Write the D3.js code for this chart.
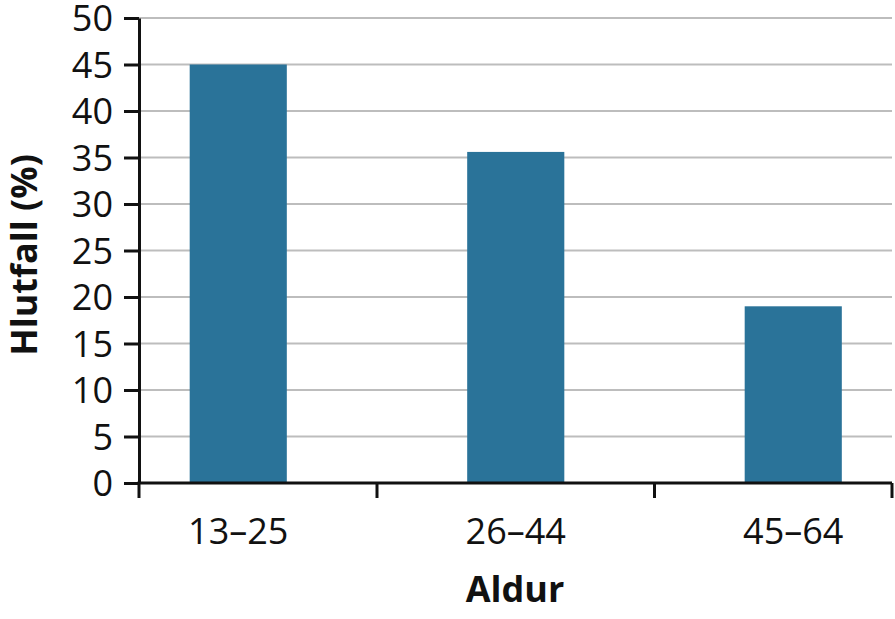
<!DOCTYPE html>
<html>
<head>
<meta charset="utf-8">
<script src="https://cdn.jsdelivr.net/npm/d3@7"></script>
<style>
  body { margin: 0; background: #fff; }
  text { font-family: "Open Sans", "Noto Sans", sans-serif; fill: #111; }
</style>
</head>
<body>
<div id="container"></div>
<script>
const categories = ["13–25", "26–44", "45–64"]
const values = [45, 35.6, 19.0]
const yTicks = [0, 5, 10, 15, 20, 25, 30, 35, 40, 45, 50]

const width = 895, height = 619
const plotLeft = 139, plotRight = 892, plotTop = 18, plotBottom = 483

const svg = d3.select("#container").append("svg")
    .attr("width", width)
    .attr("height", height)

const x = d3.scaleBand()
    .domain(categories)
    .range([99.5, 932])
    .paddingInner(0.65)
    .paddingOuter(0.325)

const y = d3.scaleLinear()
    .domain([0, 50])
    .range([plotBottom, plotTop])

// gridlines
svg.append("g")
    .selectAll("line")
    .data(yTicks.filter(d => d > 0))
    .enter()
    .append("line")
    .attr("x1", plotLeft)
    .attr("x2", plotRight)
    .attr("y1", d => y(d))
    .attr("y2", d => y(d))
    .style("stroke", "#bdbdbd")
    .style("stroke-width", 2)

// bars
svg.append("g")
    .selectAll("rect")
    .data(values)
    .enter()
    .append("rect")
    .attr("x", (d, i) => x(categories[i]))
    .attr("y", d => y(d))
    .attr("width", x.bandwidth())
    .attr("height", d => y(0) - y(d))
    .style("fill", "#2a7399")

// y axis
const yAxis = svg.append("g")
    .attr("transform", `translate(${plotLeft},0)`)
    .call(d3.axisLeft(y).tickValues(yTicks).tickSize(15).tickPadding(11).tickSizeOuter(0))
yAxis.select(".domain").style("stroke", "#111").style("stroke-width", 3)
yAxis.selectAll(".tick line").style("stroke", "#111").style("stroke-width", 3)
yAxis.selectAll(".tick text")
    .attr("dy", "0.36em")
    .style("font-size", "36px")
    .style("font-family", "'Open Sans', sans-serif")
    .style("fill", "#111")

// x axis: boundaries between bands
const step = x.step()
const bounds = [plotLeft, x(categories[1]) - step * 0.325, x(categories[2]) - step * 0.325, plotRight]
svg.append("line")
    .attr("x1", plotLeft - 1.5)
    .attr("x2", plotRight)
    .attr("y1", plotBottom)
    .attr("y2", plotBottom)
    .style("stroke", "#111")
    .style("stroke-width", 3)
svg.append("g")
    .selectAll("line")
    .data(bounds)
    .enter()
    .append("line")
    .attr("x1", d => d)
    .attr("x2", d => d)
    .attr("y1", plotBottom)
    .attr("y2", plotBottom + 15)
    .style("stroke", "#111")
    .style("stroke-width", 3)

svg.append("g")
    .selectAll("text")
    .data(categories)
    .enter()
    .append("text")
    .attr("x", d => x(d) + x.bandwidth() / 2)
    .attr("y", 544)
    .attr("text-anchor", "middle")
    .style("font-size", "36px")
    .text(d => d)

// axis titles
svg.append("text")
    .attr("x", 515)
    .attr("y", 602)
    .attr("text-anchor", "middle")
    .style("font-size", "36px")
    .style("font-weight", "bold")
    .text("Aldur")

svg.append("text")
    .attr("transform", "translate(37,255) rotate(-90)")
    .attr("text-anchor", "middle")
    .style("font-size", "36px")
    .style("font-weight", "bold")
    .text("Hlutfall (%)")
</script>
</body>
</html>
